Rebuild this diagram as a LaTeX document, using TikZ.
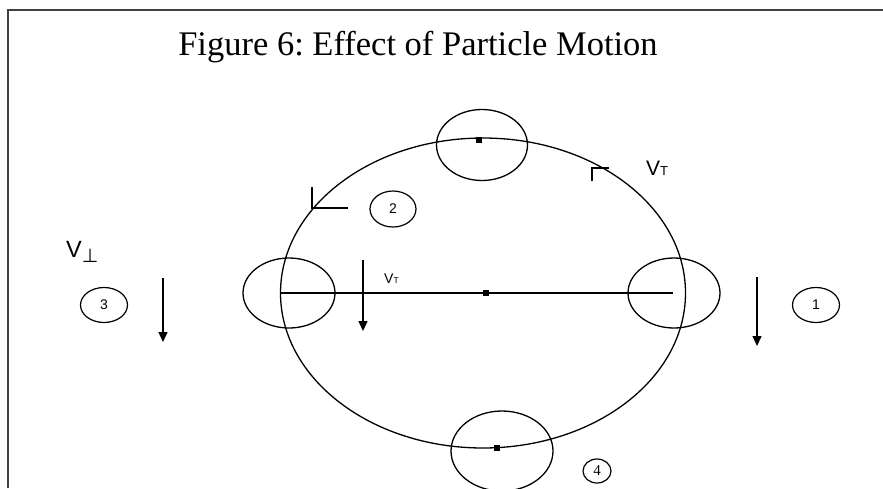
\documentclass[tikz,border=0pt]{standalone}
\usepackage{fontspec}
\setmainfont{Liberation Serif}
\setsansfont{Liberation Sans}
\newfontfamily\djv{DejaVu Sans}
\usetikzlibrary{shapes.geometric,arrows.meta}
\frenchspacing
\begin{document}
\begin{tikzpicture}[x=1pt,y=-1pt,
  ln/.style={line width=1.3pt,black},
  blob/.style={ellipse,draw,line width=1.3pt,inner sep=0pt},
  numc/.style={ellipse,draw,line width=1.2pt,inner sep=0pt,font=\sffamily\fontsize{14}{14}\selectfont},
  dotm/.style={rectangle,fill=black,minimum width=6pt,minimum height=6pt,inner sep=0pt},
  varrow/.style={line width=1.3pt,-{Triangle[width=9pt,length=10pt]}},
  lbl/.style={inner sep=0pt,anchor=base west}]
\useasboundingbox (0,0) rectangle (883,488);
% frame
\draw[line width=1.5pt,black!75] (8,488) -- (8,10) -- (883,10);
% title
\node[inner sep=0pt,anchor=base,font=\fontsize{34.5}{34.5}\selectfont] (title) at (418,55) {Figure 6: Effect of Particle Motion};
% orbit
\node[blob,minimum width=405pt,minimum height=310pt] (orbit) at (483,293) {};
% particle blobs
\node[blob,minimum width=91pt,minimum height=71pt] (ptop) at (482,145) {};
\node[blob,minimum width=92pt,minimum height=70pt] (pleft) at (289,293) {};
\node[blob,minimum width=92pt,minimum height=70pt] (pright) at (674,293) {};
\node[blob,minimum width=102pt,minimum height=80pt] (pbot) at (502,451) {};
% dots
\node[dotm] (dtop) at (479,140) {};
\node[dotm] (dcen) at (486,293) {};
\node[dotm] (dbot) at (497,448) {};
% diameter line
\coordinate (dl) at (280,293);
\coordinate (dr) at (673,293);
\draw[ln] (dl) -- (dcen) -- (dr);
% numbered circles
\node[numc,minimum width=47pt,minimum height=35pt] (n1) at (816,305) {1};
\node[numc,minimum width=46pt,minimum height=36pt] (n2) at (393,209) {2};
\node[numc,minimum width=47pt,minimum height=35pt] (n3) at (104,305) {3};
\node[numc,minimum width=28pt,minimum height=24pt,font=\fontsize{15}{15}\selectfont] (n4) at (597,471) {4};
% velocity ticks on orbit
\coordinate (t2) at (312,208);
\coordinate (t2u) at (312,187);
\coordinate (t2r) at (348,208);
\draw[ln] (t2u) -- (t2) -- (t2r);
\coordinate (t1) at (592,168);
\coordinate (t1d) at (592,181);
\coordinate (t1r) at (609,168);
\draw[ln] (t1d) -- (t1) -- (t1r);
% vertical arrows
\coordinate (am1) at (363,260);
\coordinate (am2) at (363,331);
\draw[varrow] (am1) -- (am2);
\coordinate (al1) at (163,278);
\coordinate (al2) at (163,342);
\draw[varrow] (al1) -- (al2);
\coordinate (ar1) at (757,277);
\coordinate (ar2) at (757,346);
\draw[varrow] (ar1) -- (ar2);
% labels
\node[lbl,font=\sffamily\fontsize{21}{21}\selectfont] (vt1) at (646,175) {V\fontsize{13}{13}\selectfont T};
\node[lbl,font=\sffamily\fontsize{14}{14}\selectfont] (vt2) at (384,283) {V\fontsize{8.5}{8.5}\selectfont T};
\node[lbl,font=\sffamily\fontsize{23.5}{23.5}\selectfont] (vp) at (66,257) {V\raisebox{-5pt}{\djv\fontsize{19}{19}\selectfont ⊥}};
\end{tikzpicture}
\end{document}
